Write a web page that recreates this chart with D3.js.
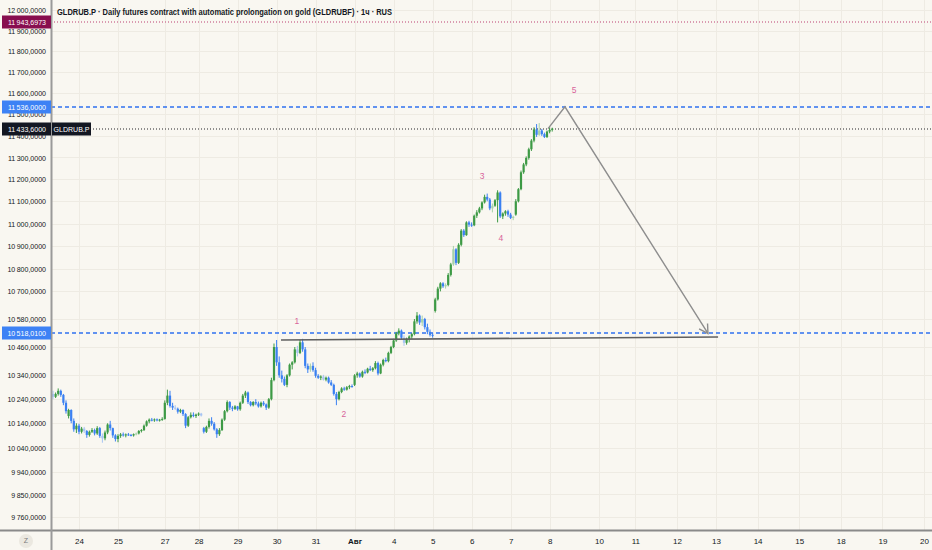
<!DOCTYPE html>
<html>
<head>
<meta charset="utf-8">
<script src="https://cdn.jsdelivr.net/npm/d3@7"></script>
<style>
  body { margin: 0; background: #f9f7f1; }
  svg { display: block; font-family: "Liberation Sans", Arial, sans-serif; }
</style>
</head>
<body>
<svg id="chart"></svg>
<script>
// hourly candles [open, high, low, close]
const candles = [
    [10262,10275,10240,10250],[10250,10268,10245,10262],[10262,10285,10255,10275],[10275,10280,10250,10258],
    [10258,10262,10215,10225],[10225,10235,10180,10190],[10170,10200,10160,10195],[10195,10198,10140,10150],
    [10150,10160,10105,10115],[10115,10140,10100,10130],[10130,10138,10095,10105],[10105,10125,10098,10118],
    [10118,10125,10100,10108],[10108,10112,10080,10092],[10092,10110,10085,10105],[10105,10120,10100,10112],
    [10112,10118,10090,10098],[10098,10128,10092,10120],[10120,10125,10080,10088],[10088,10098,10060,10078],
    [10078,10110,10070,10102],[10102,10140,10095,10135],[10135,10150,10110,10120],[10120,10122,10080,10090],
    [10090,10095,10065,10075],[10075,10095,10062,10088],[10088,10100,10080,10094],[10094,10102,10085,10090],
    [10090,10098,10082,10094],[10094,10100,10088,10092],[10092,10096,10086,10090],[10090,10098,10085,10095],
    [10095,10102,10090,10098],[10098,10112,10094,10108],[10108,10116,10102,10112],[10112,10135,10108,10130],
    [10130,10152,10126,10148],[10148,10160,10140,10155],[10155,10162,10148,10152],[10152,10160,10146,10156],
    [10156,10160,10148,10152],[10152,10158,10147,10155],[10155,10165,10150,10158],[10158,10235,10155,10225],
    [10225,10280,10215,10255],[10255,10275,10205,10212],[10212,10225,10195,10205],[10205,10215,10195,10200],
    [10200,10205,10180,10188],[10188,10200,10182,10195],[10195,10198,10170,10178],[10178,10182,10120,10130],
    [10130,10170,10125,10165],[10165,10185,10160,10175],[10175,10185,10165,10170],[10170,10180,10162,10176],
    [10176,10185,10170,10180],[10180,10183,10168,10172],[10120,10125,10098,10105],[10105,10130,10100,10125],
    [10125,10160,10118,10150],[10150,10165,10130,10138],[10138,10145,10110,10115],[10115,10120,10080,10095],
    [10095,10120,10088,10112],[10112,10160,10108,10155],[10155,10195,10150,10190],[10190,10235,10185,10228],
    [10228,10232,10195,10205],[10205,10212,10190,10200],[10200,10215,10195,10210],[10210,10212,10192,10198],
    [10198,10230,10192,10225],[10225,10262,10220,10255],[10255,10275,10245,10268],[10268,10272,10220,10228],
    [10228,10232,10210,10215],[10215,10232,10210,10228],[10228,10240,10215,10222],[10222,10230,10205,10210],
    [10210,10230,10205,10225],[10225,10232,10212,10218],[10218,10222,10195,10205],[10205,10245,10200,10240],
    [10240,10330,10235,10320],[10320,10475,10315,10460],[10460,10490,10380,10395],[10395,10420,10330,10340],
    [10340,10360,10310,10325],[10325,10335,10295,10300],[10300,10345,10290,10340],[10340,10390,10335,10385],
    [10385,10400,10365,10395],[10395,10460,10390,10450],[10450,10465,10420,10435],[10435,10490,10430,10480],
    [10480,10495,10440,10450],[10450,10460,10370,10380],[10380,10390,10350,10365],[10365,10390,10355,10380],
    [10380,10395,10355,10362],[10362,10372,10330,10338],[10338,10345,10325,10330],[10330,10340,10320,10335],
    [10335,10342,10318,10322],[10322,10335,10315,10330],[10330,10335,10305,10310],[10310,10320,10295,10300],
    [10300,10305,10255,10262],[10262,10270,10215,10240],[10240,10275,10235,10270],[10270,10290,10265,10285],
    [10285,10292,10275,10280],[10280,10295,10276,10290],[10290,10300,10282,10295],[10295,10302,10288,10292],
    [10300,10345,10295,10340],[10340,10355,10330,10348],[10348,10352,10330,10335],[10335,10360,10330,10355],
    [10355,10365,10345,10352],[10352,10372,10348,10368],[10368,10380,10358,10362],[10362,10375,10355,10370],
    [10370,10400,10365,10392],[10392,10398,10340,10348],[10348,10390,10345,10385],[10385,10410,10378,10405],
    [10405,10415,10395,10400],[10400,10440,10395,10435],[10435,10465,10430,10460],[10460,10495,10455,10488],
    [10488,10525,10482,10518],[10518,10540,10510,10530],[10530,10535,10490,10500],[10500,10510,10465,10478],
    [10478,10500,10470,10495],[10495,10510,10480,10505],[10505,10520,10495,10515],[10515,10580,10510,10570],
    [10570,10610,10560,10595],[10595,10600,10555,10565],[10565,10595,10550,10580],[10580,10585,10535,10545],
    [10545,10560,10515,10525],[10525,10535,10505,10512],[10512,10520,10500,10508],[10615,10672,10608,10665],
    [10665,10720,10660,10712],[10712,10740,10700,10735],[10735,10740,10715,10722],[10722,10735,10712,10728],
    [10728,10780,10722,10772],[10772,10825,10765,10818],[10818,10900,10812,10885],[10885,10890,10815,10825],
    [10825,10912,10820,10905],[10905,10975,10898,10968],[10968,10975,10940,10948],[10948,11010,10945,11005],
    [11005,11012,10985,10995],[10995,11005,10985,10992],[10992,11040,10988,11035],[11035,11060,11025,11050],
    [11050,11075,11045,11068],[11068,11100,11060,11095],[11095,11130,11090,11120],[11120,11135,11100,11108],
    [11108,11115,11060,11068],[11068,11090,11050,11080],[11080,11110,11075,11105],[11105,11150,11005,11140],
    [11140,11145,11025,11032],[11032,11050,11020,11045],[11045,11060,11035,11055],[11055,11062,11030,11040],
    [11040,11048,11020,11025],[11025,11035,11015,11030],[11040,11110,11035,11100],[11100,11160,11095,11155],
    [11155,11240,11150,11232],[11232,11275,11225,11268],[11268,11305,11260,11298],[11298,11345,11290,11338],
    [11338,11385,11330,11378],[11378,11440,11370,11430],[11430,11455,11395,11405],[11405,11460,11400,11425],
    [11425,11432,11400,11408],[11408,11415,11390,11395],[11395,11425,11390,11420],[11420,11440,11412,11428],
    [11428,11438,11420,11433.6]
];
// candles drawn in the pale shade
const fadedBars = [0, 12, 19, 32, 47, 57, 94, 99, 104, 135, 142, 151, 154, 169, 177, 187];

// day labels and the bar index where each day starts (future days continue the same spacing)
const dayLabels = ["24","25","27","28","29","30","31","Авг","4","5","6","7","8","10","11","12","13","14","15","18","19","20"];
const dayIndex  = [10, 25, 43, 56, 71, 86, 101, 116, 131, 146, 161, 176, 191, 210, 224, 240, 255, 271, 287, 303, 319, 335];

const yTicks = [12000,11900,11800,11700,11600,11500,11400,11300,11200,11100,11000,10900,10800,10700,
                10580,10460,10340,10240,10140,10040,9940,9850,9760];

const priceLines = [
    { value: 11943.6973, color: "#880e4f", line: "#cf7d9c", dash: "1,2" },
    { value: 11536.0000, color: "#3d82f5", line: "#2f72f0", dash: "4,3" },
    { value: 11433.6000, color: "#131722", line: "#6b6b6b", dash: "1,2", tag: "GLDRUB.P" },
    { value: 10518.0100, color: "#3d82f5", line: "#2f72f0", dash: "4,3" }
];

// drawings: [bar index, price]
const supportLine = [[87.7, 10490], [255.8, 10503]];
const arrowPath = [[190.4, 11433.6], [196.9, 11536], [251.9, 10518]];
const waveLabels = [
    { text: "1", at: [93.8, 10572] },
    { text: "2", at: [111.9, 10179] },
    { text: "3", at: [165.0, 11215] },
    { text: "4", at: [172.3, 10935] },
    { text: "5", at: [200.4, 11615] }
];

const title = "GLDRUB.P · Daily futures contract with automatic prolongation on gold (GLDRUBF) · 1ч · RUS";

const W = 932, H = 550;
const axisX = 51, axisY = 530;
const squeeze = 0.88; // the chart's font is narrower than the installed ones

const svg = d3.select("#chart").attr("width", W).attr("height", H);

svg.append("rect").attr("width", W).attr("height", H).attr("fill", "#f9f7f1");

const x = d3.scaleLinear().domain([0, 335]).range([53, 924]);
const y = d3.scaleLog().domain([9760, 12000]).range([517, 10]);

const fmt = v => {
    const [i, f] = d3.format(".4f")(v).split(".");
    const int = i.length > 3 ? i.slice(0, -3) + "\u2009" + i.slice(-3) : i;
    return int + "," + f;
};

function narrow(sel) {
    sel.each(function() {
        const w = this.getComputedTextLength();
        d3.select(this).attr("textLength", w * squeeze).attr("lengthAdjust", "spacingAndGlyphs");
    });
}

svg.append("defs").append("clipPath").attr("id", "plot")
    .append("rect").attr("x", axisX + 1).attr("y", 0).attr("width", W - axisX).attr("height", axisY);

// grid
const grid = svg.append("g").attr("stroke", "#eeebe3").attr("stroke-width", 1);
grid.selectAll(".hg").data(yTicks).enter().append("line")
    .attr("x1", axisX).attr("x2", W)
    .attr("y1", d => Math.round(y(d)) + 0.5).attr("y2", d => Math.round(y(d)) + 0.5);
grid.selectAll(".vg").data(dayIndex).enter().append("line")
    .attr("x1", d => Math.round(x(d)) + 0.5).attr("x2", d => Math.round(x(d)) + 0.5)
    .attr("y1", 0).attr("y2", axisY);

const plot = svg.append("g").attr("clip-path", "url(#plot)");

// price lines
plot.selectAll(".pl").data(priceLines).enter().append("line")
    .attr("x1", axisX).attr("x2", W)
    .attr("y1", d => Math.round(y(d.value))).attr("y2", d => Math.round(y(d.value)))
    .attr("stroke", d => d.line).attr("stroke-width", 1.5).attr("stroke-dasharray", d => d.dash);

// candles
const up = "#3d9a45", down = "#3a80f2", upPale = "#a6d2a8", downPale = "#a7c4f3";
const barColor = (d, i) => {
    const pale = fadedBars.includes(i);
    return d[3] >= d[0] ? (pale ? upPale : up) : (pale ? downPale : down);
};

const bars = plot.append("g").selectAll("g").data(candles).enter().append("g");
bars.append("line")
    .attr("x1", (d, i) => x(i)).attr("x2", (d, i) => x(i))
    .attr("y1", d => y(d[1])).attr("y2", d => y(d[2]))
    .attr("stroke", barColor).attr("stroke-width", 1);
bars.append("rect")
    .attr("x", (d, i) => x(i) - 1.1)
    .attr("width", 2.2)
    .attr("y", d => y(Math.max(d[0], d[3])))
    .attr("height", d => Math.max(1, Math.abs(y(d[0]) - y(d[3]))))
    .attr("fill", barColor);

// support line
plot.append("line")
    .attr("x1", x(supportLine[0][0])).attr("y1", y(supportLine[0][1]))
    .attr("x2", x(supportLine[1][0])).attr("y2", y(supportLine[1][1]))
    .attr("stroke", "#5f5f5f").attr("stroke-width", 1.6);

// projected path with arrow head
const line = d3.line().x(d => x(d[0])).y(d => y(d[1]));
plot.append("path").datum(arrowPath)
    .attr("d", line)
    .attr("fill", "none").attr("stroke", "#8e8e8e").attr("stroke-width", 1.4);

const pEnd = arrowPath[arrowPath.length - 1], pPrev = arrowPath[arrowPath.length - 2];
const ex = x(pEnd[0]), ey = y(pEnd[1]);
const ang = Math.atan2(ey - y(pPrev[1]), ex - x(pPrev[0]));
const head = [ang - Math.PI / 6, ang + Math.PI / 6].map(a => [ex - 10 * Math.cos(a), ey - 10 * Math.sin(a)]);
plot.append("path")
    .attr("d", `M${head[0][0]},${head[0][1]}L${ex},${ey}L${head[1][0]},${head[1][1]}`)
    .attr("fill", "none").attr("stroke", "#8e8e8e").attr("stroke-width", 1.4);

// wave labels
plot.selectAll(".wl").data(waveLabels).enter().append("text")
    .attr("x", d => x(d.at[0])).attr("y", d => y(d.at[1]))
    .attr("dy", "0.35em")
    .attr("text-anchor", "middle")
    .style("font-size", "8.5px")
    .style("fill", "#d8649a")
    .text(d => d.text);

// y axis
const yAxis = svg.append("g")
    .attr("transform", `translate(${axisX},0)`)
    .call(d3.axisLeft(y).tickValues(yTicks).tickFormat(fmt).tickSize(0).tickPadding(5));
yAxis.select(".domain").remove();
yAxis.selectAll("text")
    .style("font-size", "8px")
    .style("font-family", "inherit")
    .attr("fill", "#131722")
    .call(narrow);

// x axis
const xAxis = svg.append("g")
    .attr("transform", `translate(0,${axisY})`)
    .call(d3.axisBottom(x).tickValues(dayIndex).tickFormat((d, i) => dayLabels[i]).tickSize(0).tickPadding(8));
xAxis.select(".domain").remove();
xAxis.selectAll("text")
    .style("font-size", "8px")
    .style("font-family", "inherit")
    .style("font-weight", d => d === 116 ? "bold" : "normal")
    .attr("fill", "#131722");

// axis frame
svg.append("line").attr("x1", 0).attr("x2", W).attr("y1", axisY + 0.5).attr("y2", axisY + 0.5)
    .attr("stroke", "#8a8a8a").attr("stroke-width", 2);
svg.append("line").attr("x1", axisX + 0.5).attr("x2", axisX + 0.5).attr("y1", 0).attr("y2", H)
    .attr("stroke", "#9a9a9a").attr("stroke-width", 2);

// price labels on the axis
const tags = svg.append("g").selectAll("g").data(priceLines).enter().append("g")
    .attr("transform", d => `translate(0,${Math.round(y(d.value))})`);
tags.append("rect")
    .attr("x", 2).attr("y", -6.5).attr("width", axisX - 2).attr("height", 13)
    .attr("fill", d => d.color);
tags.append("text")
    .attr("x", axisX - 5).attr("dy", "0.35em")
    .attr("text-anchor", "end")
    .style("font-size", "8px")
    .attr("fill", "#ffffff")
    .text(d => fmt(d.value))
    .call(narrow);
const named = tags.filter(d => d.tag);
named.append("rect")
    .attr("x", axisX + 1).attr("y", -6.5).attr("width", 39).attr("height", 13)
    .attr("fill", d => d.color);
named.append("text")
    .attr("x", axisX + 20.5).attr("dy", "0.35em")
    .attr("text-anchor", "middle")
    .style("font-size", "8px")
    .attr("fill", "#ffffff")
    .text(d => d.tag)
    .call(narrow);

// title
svg.append("text")
    .attr("x", 57).attr("y", 15)
    .attr("textLength", 335).attr("lengthAdjust", "spacingAndGlyphs")
    .style("font-size", "8.5px")
    .style("font-weight", "bold")
    .attr("fill", "#131722")
    .text(title);

// scale mode button
svg.append("circle").attr("cx", 26).attr("cy", 541).attr("r", 7).attr("fill", "#ebe8e0");
svg.append("text").attr("x", 26).attr("y", 541).attr("dy", "0.35em")
    .attr("text-anchor", "middle")
    .style("font-size", "7px")
    .attr("fill", "#7a7a7a")
    .text("Z");
</script>
</body>
</html>
